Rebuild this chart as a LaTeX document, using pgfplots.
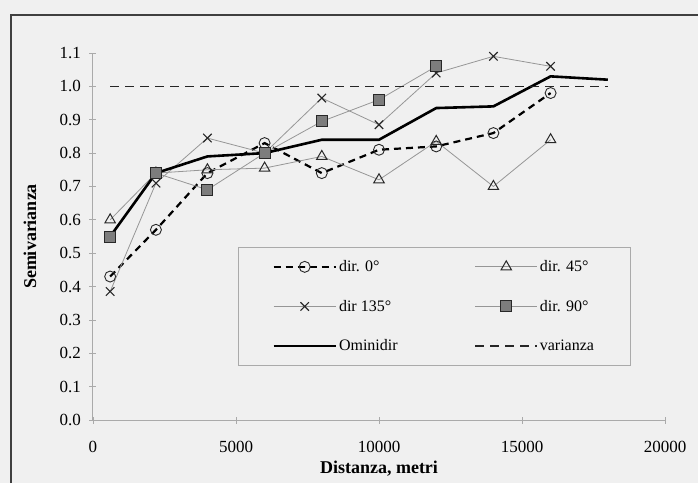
\documentclass[border=0pt]{standalone}
\usepackage{pgfplots}
\pgfplotsset{compat=1.18}
\usepackage{fontspec}
\setmainfont{Liberation Serif}
\definecolor{bgc}{RGB}{240,240,240}
\definecolor{thinc}{RGB}{150,150,150}
\definecolor{axc}{RGB}{170,170,170}
\definecolor{mk}{RGB}{40,40,40}
\definecolor{sqf}{RGB}{125,125,125}
\begin{document}
\begin{tikzpicture}
\fill[bgc] (0pt,0pt) rectangle (698pt,483pt);
\begin{axis}[
  at={(93pt,63pt)}, anchor=south west,
  scale only axis, width=572pt, height=367pt,
  xmin=0, xmax=20000, ymin=0, ymax=1.1,
  scaled x ticks=false,
  axis lines*=left,
  axis line style={axc, line width=1pt},
  every tick/.style={axc, line width=0.8pt},
  xtick={0,5000,10000,15000,20000},
  ytick={0,0.1,...,1.1},
  tick align=center, major tick length=7pt,
  /pgf/number format/assume math mode=true,
  xticklabel style={/pgf/number format/set thousands separator={}, font=\fontsize{17}{20}\selectfont, yshift=-14pt},
  yticklabel style={/pgf/number format/fixed, /pgf/number format/fixed zerofill, /pgf/number format/precision=1, font=\fontsize{17}{20}\selectfont, xshift=-5pt},
  xlabel={Distanza, metri}, ylabel={Semivarianza},
  every axis x label/.style={at={(axis description cs:0.5,-0.1335)}, anchor=center, font=\bfseries\fontsize{18}{21}\selectfont},
  every axis y label/.style={at={(axis description cs:-0.11,0.5)}, anchor=center, rotate=90, font=\bfseries\fontsize{18}{21}\selectfont},
  clip=false,
  legend columns=2,
  legend cell align=left,
  legend image code/.code={\draw[mark repeat=2,mark phase=2,#1] plot coordinates {(0pt,0pt) (31pt,0pt) (62pt,0pt)};},
  legend style={at={(axis description cs:0.2535,0.471)}, anchor=north west,
     draw=axc, line width=0.8pt, fill=none, font=\fontsize{16}{19}\selectfont,
     inner xsep=34pt, inner ysep=11pt, row sep=23pt,
     /tikz/every even column/.append style={column sep=75pt}},
]
\addplot[black, line width=2.2pt, dash pattern=on 7pt off 5pt, mark=o, mark size=5.5pt, mark options={solid, line width=0.9pt, fill=bgc, draw=mk}]
 coordinates {(600,0.43)(2200,0.57)(4000,0.74)(6000,0.83)(8000,0.74)(10000,0.81)(12000,0.82)(14000,0.86)(16000,0.98)};
\addlegendentry{dir. 0°}
\addplot[thinc, line width=0.8pt, mark=triangle, mark size=6pt, mark options={solid, line width=1pt, draw=mk, fill=bgc}]
 coordinates {(600,0.60)(2200,0.74)(4000,0.75)(6000,0.755)(8000,0.79)(10000,0.72)(12000,0.835)(14000,0.70)(16000,0.84)};
\addlegendentry{dir. 45°}
\addplot[thinc, line width=0.8pt, mark=x, mark size=6pt, mark options={solid, line width=1.1pt, draw=mk}]
 coordinates {(600,0.385)(2200,0.71)(4000,0.845)(6000,0.80)(8000,0.965)(10000,0.885)(12000,1.04)(14000,1.09)(16000,1.06)};
\addlegendentry{dir 135°}
\addplot[thinc, line width=0.8pt, mark=square*, mark size=5.5pt, mark options={solid, line width=1pt, draw=mk, fill=sqf}]
 coordinates {(600,0.55)(2200,0.74)(4000,0.69)(6000,0.80)(8000,0.895)(10000,0.96)(12000,1.06)};
\addlegendentry{dir. 90°}
\addplot[black, line width=2.6pt, no marks]
 coordinates {(600,0.55)(2200,0.74)(4000,0.79)(6000,0.80)(8000,0.84)(10000,0.84)(12000,0.935)(14000,0.94)(16000,1.03)(18000,1.02)};
\addlegendentry{Ominidir}
\addplot[black!85, line width=1.2pt, dash pattern=on 9pt off 6pt, no marks]
 coordinates {(600,1.0)(18000,1.0)};
\addlegendentry{varianza}
\end{axis}
\draw[black!75, line width=2pt] (11pt,0pt) -- (11pt,468pt) -- (698pt,468pt);
\pgfresetboundingbox
\path[use as bounding box] (0pt,0pt) rectangle (698pt,483pt);
\end{tikzpicture}
\end{document}
